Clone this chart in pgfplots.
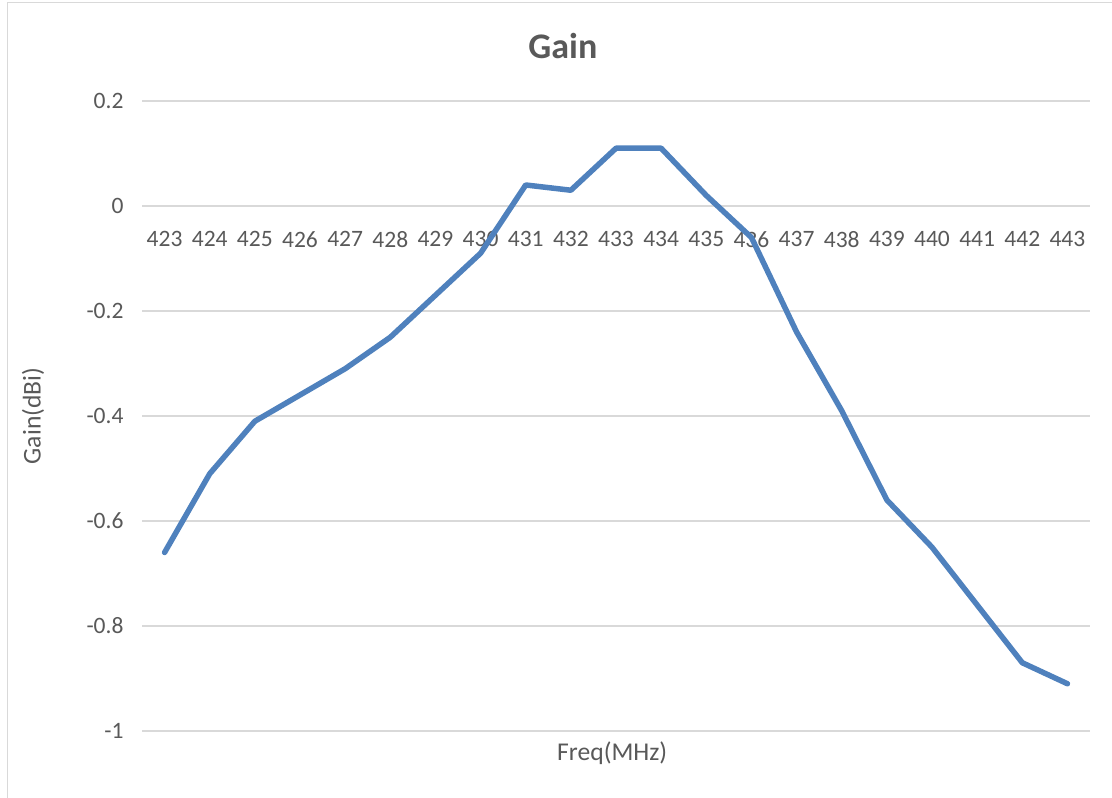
\documentclass[border=0pt]{standalone}
\usepackage{fontspec}
\setmainfont{Carlito}[Numbers={Lining}]
\usepackage{pgfplots}
\pgfplotsset{compat=1.18}
\definecolor{linecol}{HTML}{4F81BD}
\definecolor{txtc}{HTML}{595959}
\definecolor{gridc}{HTML}{D9D9D9}
\pgfplotstableread{
x gain
0 -0.66
1 -0.51
2 -0.41
3 -0.36
4 -0.31
5 -0.25
6 -0.17
7 -0.09
8 0.04
9 0.03
10 0.11
11 0.11
12 0.02
13 -0.06
14 -0.24
15 -0.39
16 -0.56
17 -0.65
18 -0.76
19 -0.87
20 -0.91
}\gaintable
\begin{document}
\begin{tikzpicture}[x=1bp,y=1bp]
\useasboundingbox (0,0) rectangle (1112,798);
\draw[gridc, line width=1.5bp] (7.5,0) -- (7.5,795.5) -- (1112,795.5);
\begin{axis}[
  at={(142bp,67bp)}, anchor=south west,
  scale only axis, width=948bp, height=630bp,
  xmin=-0.5, xmax=20.5, ymin=-1, ymax=0.2,
  axis x line=middle, axis y line=left,
  hide obscured x ticks=false, hide obscured y ticks=false,
  x axis line style={-, draw=gridc, line width=1.3bp},
  y axis line style={-, draw=none},
  major tick length=0pt,
  xtick={0,...,20},
  xticklabels={423,424,425,426,427,428,429,430,431,432,433,434,435,436,437,438,439,440,441,442,443},
  ytick={-1,-0.8,-0.6,-0.4,-0.2,0,0.2},
  yticklabels={-1,-0.8,-0.6,-0.4,-0.2,0,0.2},
  ymajorgrids=true,
  grid style={draw=gridc, line width=1.3bp},
  tick label style={font=\fontsize{23.5bp}{27bp}\selectfont, text=txtc},
  xticklabel style={anchor=north, yshift=-22bp},
  yticklabel style={anchor=east, xshift=-15bp},
  xlabel={Freq(MHz)},
  ylabel={Gain(dBi)},
  title={Gain},
  xlabel style={at={(axis description cs:0.496,-0.036)}, anchor=center, font=\fontsize{25.6bp}{30bp}\selectfont, text=txtc},
  ylabel style={at={(axis description cs:-0.115,0.5)}, anchor=center, font=\fontsize{25.6bp}{30bp}\selectfont, text=txtc},
  title style={at={(axis description cs:0.444,1.0778)}, anchor=center, font=\fontsize{36bp}{42bp}\selectfont\bfseries, text=txtc},
  clip=false,
]
\addplot[color=linecol, line width=5.5bp, line join=round, line cap=round] table[x=x, y=gain] {\gaintable};
\end{axis}
\end{tikzpicture}
\end{document}
